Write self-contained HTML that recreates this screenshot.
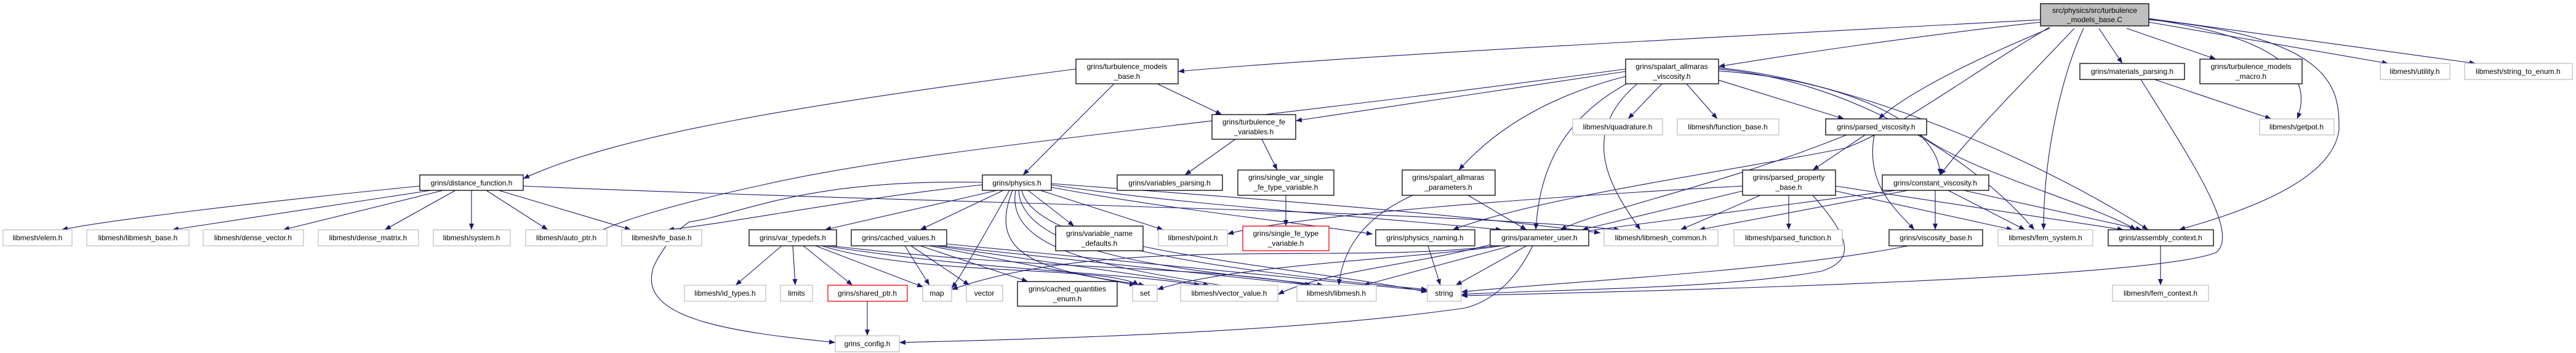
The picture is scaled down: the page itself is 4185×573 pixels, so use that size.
<!DOCTYPE html>
<html><head><meta charset="utf-8"><style>
html,body{margin:0;padding:0;background:#fff;width:4185px;height:573px;overflow:hidden}
svg text{font-family:"Liberation Sans",sans-serif;font-size:12px;fill:#000;text-anchor:middle}
.e{fill:none;stroke:#191970;stroke-width:1.1;marker-end:url(#a)}
.b{fill:#fff;stroke:#000;stroke-width:1.3}
.g{fill:#fff;stroke:#bfbfbf;stroke-width:1.3}
.r{fill:#fff;stroke:#ff0000;stroke-width:1.3}
</style></head><body>
<svg width="4185" height="573" xmlns="http://www.w3.org/2000/svg">
<defs><marker id="a" markerWidth="10" markerHeight="8" refX="10" refY="4" orient="auto" markerUnits="userSpaceOnUse"><path d="M0,0 L10,4 L0,8 z" fill="#191970"/></marker></defs>
<g>
<!-- top -->
<path class="e" d="M3315,32 C2800,60 2200,90 1914,116"/>
<path class="e" d="M3315,36 C3100,60 2900,90 2792,108"/>
<path class="e" d="M3330,46 C3200,100 3100,150 3052,193"/>
<path class="e" d="M3370,46 C3300,120 3200,220 3152,284"/>
<path class="e" d="M3385,46 C3350,120 3320,250 3320,373"/>
<path class="e" d="M3491,32 C3800,60 3800,150 3800,210 C3790,300 3620,350 3540,373"/>
<path class="e" d="M3410,46 L3448,103"/>
<path class="e" d="M3455,46 L3600,96"/>
<path class="e" d="M3491,36 L3880,103"/>
<path class="e" d="M3491,30 L4022,103"/>
<path class="e" d="M3491,31 C3700,60 3760,120 3732,193"/>
<path class="e" d="M3330,44 C3200,120 3100,200 3000,240 C2800,280 2500,320 2360,373"/>
<!-- tmb -->
<path class="e" d="M1748,112 C1300,170 1000,220 850,290"/>
<path class="e" d="M1810,136 L1662,284"/>
<path class="e" d="M1880,136 L1985,186"/>
<path class="e" d="M2007,226 L1925,284"/>
<path class="e" d="M2050,226 L2075,276"/>
<path class="e" d="M2089,317 L2089,367"/>
<!-- sav -->
<path class="e" d="M2641,116 L2105,196"/>
<path class="e" d="M2641,112 C2000,200 1500,240 1240,300 C1100,330 1000,360 965,380"/>
<path class="e" d="M2641,124 C2500,160 2420,220 2370,276"/>
<path class="e" d="M2650,132 C2520,200 2500,300 2495,373"/>
<path class="e" d="M2660,136 C2560,220 2620,310 2665,373"/>
<path class="e" d="M2700,136 L2645,193"/>
<path class="e" d="M2740,136 L2790,193"/>
<path class="e" d="M2792,130 L2996,193"/>
<path class="e" d="M2792,115 C3000,130 3150,200 3152,284"/>
<path class="e" d="M2792,112 C3000,130 3200,250 3305,373"/>
<path class="e" d="M2792,110 C3000,130 3300,250 3490,373"/>
<!-- df -->
<path class="e" d="M682,302 C400,330 160,360 100,373"/>
<path class="e" d="M700,309 L280,373"/>
<path class="e" d="M720,309 L460,373"/>
<path class="e" d="M740,309 L625,373"/>
<path class="e" d="M766,309 L766,373"/>
<path class="e" d="M790,309 L890,373"/>
<path class="e" d="M810,309 L1025,373"/>
<path class="e" d="M850,302 C1500,330 2300,340 2632,373"/>
<!-- physics -->
<path class="e" d="M1596,300 C1400,320 1200,360 1085,373"/>
<path class="e" d="M1620,309 L1340,373"/>
<path class="e" d="M1630,309 L1495,373"/>
<path class="e" d="M1670,309 L1745,367"/>
<path class="e" d="M1690,309 L1890,373"/>
<path class="e" d="M1708,300 C1900,330 2200,350 2440,373"/>
<path class="e" d="M1708,304 C1900,340 2100,360 2230,380"/>
<path class="e" d="M1708,298 C2000,320 2300,340 2600,378"/>
<path class="e" d="M1596,296 C1300,290 1200,350 1120,360 C1090,380 1060,430 1060,440 C1040,520 1200,540 1357,556"/>
<path class="e" d="M1640,309 C1600,380 1560,450 1546,468"/>
<path class="e" d="M1645,309 C1600,420 1700,440 1860,463"/>
<path class="e" d="M1650,309 C1630,420 1850,440 2076,478"/>
<path class="e" d="M1655,309 C1660,420 1950,440 2150,463"/>
<path class="e" d="M1660,309 C1680,400 2000,440 2319,470"/>
<!-- var_typedefs -->
<path class="e" d="M1270,399 L1195,463"/>
<path class="e" d="M1288,399 L1292,463"/>
<path class="e" d="M1305,399 L1385,463"/>
<path class="e" d="M1325,399 L1500,466"/>
<path class="e" d="M1335,399 C1500,450 1800,430 1850,463"/>
<path class="e" d="M1340,399 C1600,440 1800,440 1950,463"/>
<path class="e" d="M1350,399 C1700,440 1950,430 2130,463"/>
<!-- cached_values -->
<path class="e" d="M1470,399 L1510,463"/>
<path class="e" d="M1480,399 L1575,463"/>
<path class="e" d="M1495,399 L1670,457"/>
<path class="e" d="M1510,399 L1845,463"/>
<path class="e" d="M1520,399 L1965,463"/>
<path class="e" d="M1530,399 L2130,463"/>
<path class="e" d="M1538,396 L2319,472"/>
<path class="e" d="M1409,489 L1409,545"/>
<path class="e" d="M1857,400 C2000,430 2200,450 2319,474"/>
<!-- sap / pn / pu -->
<path class="e" d="M2295,317 C2200,360 2180,420 2175,463"/>
<path class="e" d="M2385,317 L2480,373"/>
<path class="e" d="M2320,399 L2340,463"/>
<path class="e" d="M2480,399 L2365,463"/>
<path class="e" d="M2455,399 L2215,463"/>
<path class="e" d="M2440,399 C2300,420 2000,430 1880,470"/>
<path class="e" d="M2430,399 C2200,430 1800,380 1546,470"/>
<path class="e" d="M2425,396 C2300,430 2150,440 2076,478"/>
<path class="e" d="M2490,399 C2460,460 2420,490 2380,500 C2100,540 1700,550 1461,556"/>
<!-- pv -->
<path class="e" d="M3030,219 L2945,276"/>
<path class="e" d="M3000,219 C2800,300 2600,340 2535,373"/>
<path class="e" d="M3045,219 C3030,300 3080,340 3110,373"/>
<path class="e" d="M3120,219 C3200,280 3400,330 3470,373"/>
<!-- ppb -->
<path class="e" d="M2831,302 C2500,320 2100,350 1994,380"/>
<path class="e" d="M2831,310 L2570,373"/>
<path class="e" d="M2860,317 L2730,373"/>
<path class="e" d="M2906,317 L2906,373"/>
<path class="e" d="M2945,317 C3000,380 3020,420 2960,440 C2800,470 2500,470 2374,478"/>
<path class="e" d="M2982,310 L3270,373"/>
<path class="e" d="M2982,302 L3450,373"/>
<!-- cv -->
<path class="e" d="M3080,309 L2570,376"/>
<path class="e" d="M3100,309 L2760,373"/>
<path class="e" d="M3144,309 L3144,373"/>
<path class="e" d="M3165,309 L3290,373"/>
<path class="e" d="M3190,309 L3480,373"/>
<path class="e" d="M3100,399 C2900,440 2500,460 2374,474"/>
<!-- mp -->
<path class="e" d="M3500,129 L3690,193"/>
<path class="e" d="M3478,129 C3560,260 3640,380 3600,410 C3500,450 2800,470 2374,480"/>
<path class="e" d="M3510,399 L3510,463"/>
</g>
<g>
<rect x="3315" y="6" width="176" height="36" fill="#bfbfbf" stroke="#000" stroke-width="1.3"/>
<text x="3403" y="21">src/physics/src/turbulence</text><text x="3403" y="36">_models_base.C</text>
<rect class="b" x="1748" y="96" width="166" height="40"/><text x="1831" y="112">grins/turbulence_models</text><text x="1831" y="128">_base.h</text>
<rect class="b" x="2641" y="96" width="151" height="40"/><text x="2716" y="112">grins/spalart_allmaras</text><text x="2716" y="128">_viscosity.h</text>
<rect class="b" x="3379" y="103" width="170" height="26"/><text x="3464" y="120">grins/materials_parsing.h</text>
<rect class="b" x="3574" y="96" width="166" height="40"/><text x="3657" y="112">grins/turbulence_models</text><text x="3657" y="128">_macro.h</text>
<rect class="g" x="3867" y="103" width="113" height="26"/><text x="3923" y="120">libmesh/utility.h</text>
<rect class="g" x="4004" y="103" width="175" height="26"/><text x="4091" y="120">libmesh/string_to_enum.h</text>
<rect class="b" x="1969" y="186" width="136" height="40"/><text x="2037" y="202">grins/turbulence_fe</text><text x="2037" y="218">_variables.h</text>
<rect class="g" x="2555" y="193" width="146" height="26"/><text x="2628" y="210">libmesh/quadrature.h</text>
<rect class="g" x="2725" y="193" width="165" height="26"/><text x="2807" y="210">libmesh/function_base.h</text>
<rect class="b" x="2966" y="193" width="164" height="26"/><text x="3048" y="210">grins/parsed_viscosity.h</text>
<rect class="g" x="3671" y="193" width="121" height="26"/><text x="3731" y="210">libmesh/getpot.h</text>
<rect class="b" x="682" y="284" width="168" height="25"/><text x="766" y="301">grins/distance_function.h</text>
<rect class="b" x="1596" y="284" width="112" height="25"/><text x="1652" y="301">grins/physics.h</text>
<rect class="b" x="1815" y="284" width="171" height="25"/><text x="1900" y="301">grins/variables_parsing.h</text>
<rect class="b" x="2011" y="276" width="156" height="41"/><text x="2089" y="292">grins/single_var_single</text><text x="2089" y="308">_fe_type_variable.h</text>
<rect class="b" x="2278" y="276" width="151" height="41"/><text x="2353" y="292">grins/spalart_allmaras</text><text x="2353" y="308">_parameters.h</text>
<rect class="b" x="2831" y="276" width="151" height="41"/><text x="2906" y="292">grins/parsed_property</text><text x="2906" y="308">_base.h</text>
<rect class="b" x="3058" y="284" width="173" height="25"/><text x="3144" y="301">grins/constant_viscosity.h</text>
<rect class="g" x="5" y="373" width="112" height="26"/><text x="61" y="390">libmesh/elem.h</text>
<rect class="g" x="141" y="373" width="166" height="26"/><text x="224" y="390">libmesh/libmesh_base.h</text>
<rect class="g" x="330" y="373" width="163" height="26"/><text x="411" y="390">libmesh/dense_vector.h</text>
<rect class="g" x="517" y="373" width="163" height="26"/><text x="598" y="390">libmesh/dense_matrix.h</text>
<rect class="g" x="704" y="373" width="125" height="26"/><text x="766" y="390">libmesh/system.h</text>
<rect class="g" x="854" y="373" width="132" height="26"/><text x="920" y="390">libmesh/auto_ptr.h</text>
<rect class="g" x="1010" y="373" width="130" height="26"/><text x="1075" y="390">libmesh/fe_base.h</text>
<rect class="b" x="1217" y="373" width="142" height="26"/><text x="1288" y="390">grins/var_typedefs.h</text>
<rect class="b" x="1383" y="373" width="155" height="26"/><text x="1460" y="390">grins/cached_values.h</text>
<rect class="b" x="1715" y="367" width="142" height="40"/><text x="1786" y="383">grins/variable_name</text><text x="1786" y="399">_defaults.h</text>
<rect class="g" x="1882" y="373" width="112" height="26"/><text x="1938" y="390">libmesh/point.h</text>
<rect class="r" x="2019" y="367" width="140" height="40"/><text x="2089" y="383">grins/single_fe_type</text><text x="2089" y="399">_variable.h</text>
<rect class="b" x="2235" y="373" width="161" height="26"/><text x="2315" y="390">grins/physics_naming.h</text>
<rect class="b" x="2421" y="373" width="160" height="26"/><text x="2501" y="390">grins/parameter_user.h</text>
<rect class="g" x="2606" y="373" width="185" height="26"/><text x="2698" y="390">libmesh/libmesh_common.h</text>
<rect class="g" x="2817" y="373" width="176" height="26"/><text x="2905" y="390">libmesh/parsed_function.h</text>
<rect class="b" x="3069" y="373" width="152" height="26"/><text x="3145" y="390">grins/viscosity_base.h</text>
<rect class="g" x="3246" y="373" width="154" height="26"/><text x="3323" y="390">libmesh/fem_system.h</text>
<rect class="b" x="3425" y="373" width="171" height="26"/><text x="3510" y="390">grins/assembly_context.h</text>
<rect class="g" x="1112" y="463" width="132" height="26"/><text x="1178" y="480">libmesh/id_types.h</text>
<rect class="g" x="1268" y="463" width="52" height="26"/><text x="1294" y="480">limits</text>
<rect class="r" x="1345" y="463" width="129" height="26"/><text x="1409" y="480">grins/shared_ptr.h</text>
<rect class="g" x="1499" y="463" width="47" height="26"/><text x="1522" y="480">map</text>
<rect class="g" x="1570" y="463" width="59" height="26"/><text x="1599" y="480">vector</text>
<rect class="b" x="1653" y="457" width="162" height="40"/><text x="1734" y="473">grins/cached_quantities</text><text x="1734" y="489">_enum.h</text>
<rect class="g" x="1840" y="463" width="40" height="26"/><text x="1860" y="480">set</text>
<rect class="g" x="1918" y="463" width="158" height="26"/><text x="1997" y="480">libmesh/vector_value.h</text>
<rect class="g" x="2107" y="463" width="129" height="26"/><text x="2171" y="480">libmesh/libmesh.h</text>
<rect class="g" x="2319" y="463" width="55" height="26"/><text x="2346" y="480">string</text>
<rect class="g" x="3432" y="463" width="156" height="26"/><text x="3510" y="480">libmesh/fem_context.h</text>
<rect class="g" x="1357" y="545" width="104" height="26"/><text x="1409" y="562">grins_config.h</text>
</g>
</svg>
</body></html>
